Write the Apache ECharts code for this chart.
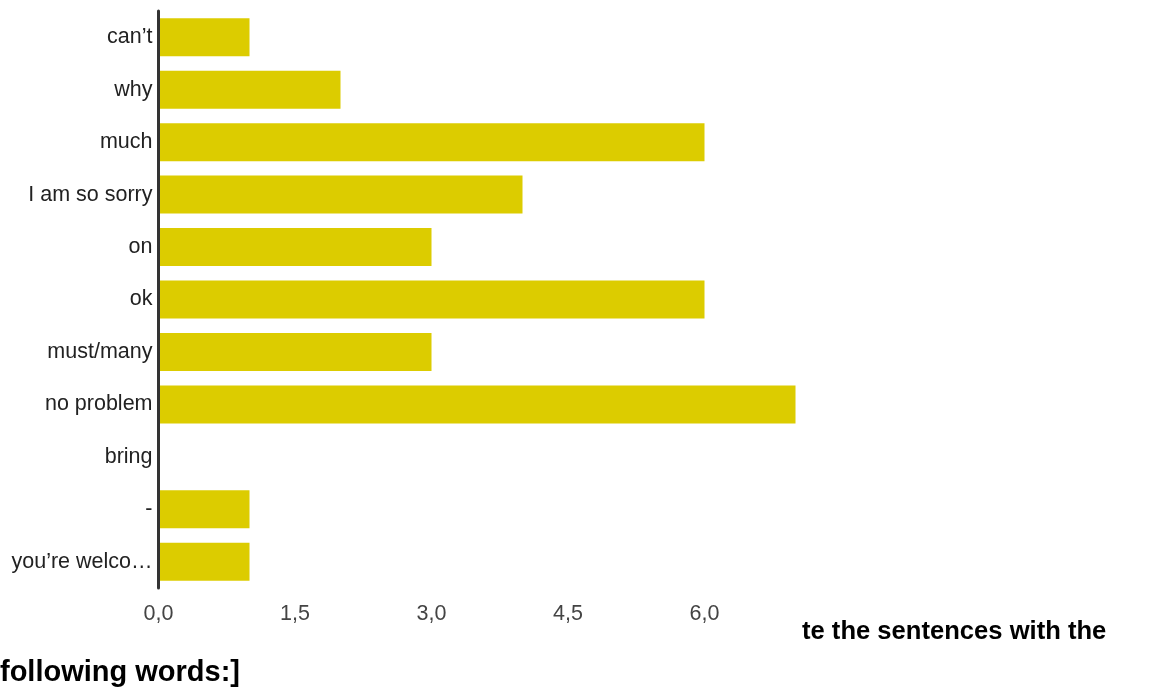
<!DOCTYPE html>
<html>
<head>
<meta charset="utf-8">
<script src="https://cdn.jsdelivr.net/npm/echarts@6/dist/echarts.min.js"></script>
<style>
html,body{margin:0;padding:0;background:#fff;}
#chart{width:1153px;height:689px;}
</style>
</head>
<body>
<div id="chart"></div>
<script>
const categories = ['can’t', 'why', 'much', 'I am so sorry', 'on', 'ok', 'must/many', 'no problem', 'bring', '-', 'you’re welco…'];
const counts = [1, 2, 6, 4, 3, 6, 3, 7, 0, 1, 1];
const titleLine1 = 'te the sentences with the';
const titleLine2 = 'following words:]';

const FONT = "'Liberation Sans', Arial, sans-serif";
const chart = echarts.init(document.getElementById('chart'));
chart.setOption({
  backgroundColor: '#ffffff',
  animation: false,
  title: [
    { text: titleLine1, left: 802, top: 619, padding: 0,
      textStyle: { fontFamily: FONT, fontSize: 25.6, fontWeight: 'bold', color: '#000' } },
    { text: titleLine2, left: 0, top: 658, padding: 0,
      textStyle: { fontFamily: FONT, fontSize: 29, fontWeight: 'bold', color: '#000' } }
  ],
  grid: { left: 158.5, top: 11, width: 637, height: 577, containLabel: false },
  xAxis: {
    type: 'value', min: 0, max: 7, interval: 1.5,
    axisLine: { show: false }, axisTick: { show: false }, splitLine: { show: false },
    axisLabel: {
      showMaxLabel: false, margin: 15, color: '#444', fontSize: 21.5, fontFamily: FONT,
      formatter: v => (v % 1.5 === 0 ? v.toFixed(1).replace('.', ',') : '')
    }
  },
  yAxis: {
    type: 'category', data: categories, inverse: true, z: 5,
    axisLine: { show: true, lineStyle: { color: '#333', width: 3 } },
    axisTick: { show: false },
    axisLabel: { margin: 6, color: '#222', fontSize: 21.5, fontFamily: FONT }
  },
  series: [{
    type: 'bar', data: counts, barWidth: 38,
    itemStyle: { color: '#dccc00' }
  }]
});
</script>
</body>
</html>
